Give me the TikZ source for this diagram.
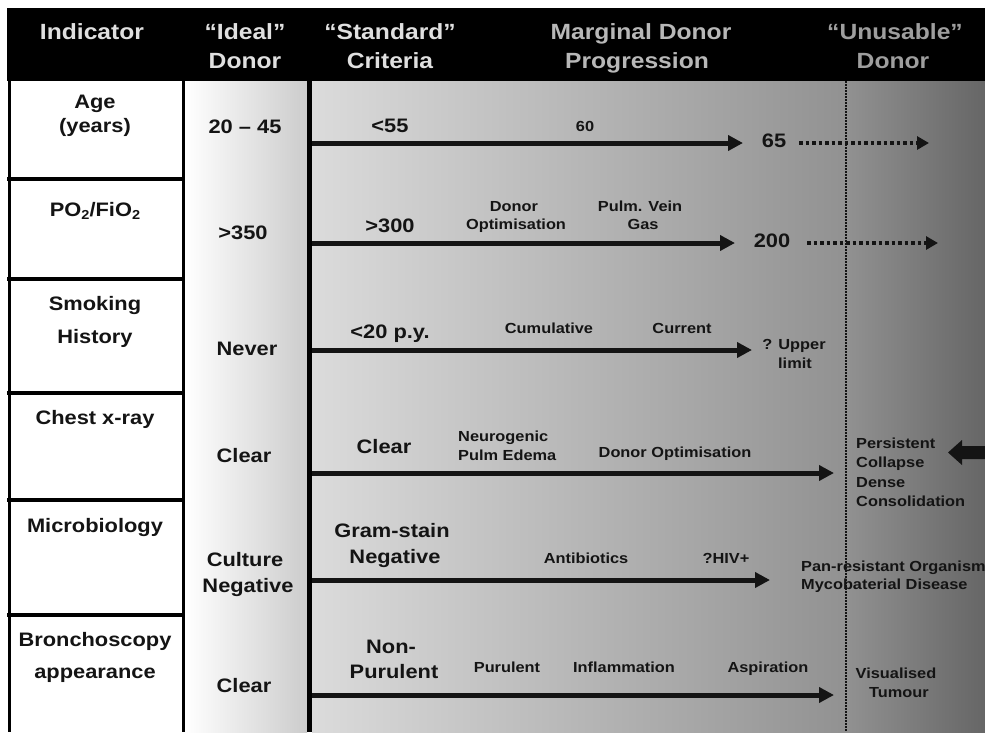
\documentclass[tikz,border=0pt]{standalone}
\usepackage{fontspec}
\setmainfont{Liberation Sans}[FakeStretch=1.12]
\usetikzlibrary{arrows.meta}
\definecolor{hA}{gray}{0.88}
\definecolor{hB}{gray}{0.72}
\definecolor{hC}{gray}{0.62}
\definecolor{idealR}{gray}{0.80}
\definecolor{mainL}{gray}{0.86}
\definecolor{mainM}{gray}{0.57}
\definecolor{mainR}{gray}{0.40}
\definecolor{ink}{gray}{0.08}
\newcommand{\subtwo}{\raisebox{-0.35ex}{\fontsize{13}{15}\selectfont 2}}
\tikzset{
  txt/.style={inner sep=0pt, anchor=base, text=ink, font=\bfseries},
  hdr/.style={txt, text=hA, font=\fontsize{22}{26}\selectfont\bfseries},
  big/.style={txt, font=\fontsize{19.5}{23}\selectfont\bfseries},
  sml/.style={txt, font=\fontsize{14.6}{17}\selectfont\bfseries},
  mainarrow/.style={draw=ink, line width=5pt, -{Triangle[length=15pt,width=15pt]}},
  dotarrow/.style={draw=ink, line width=3.5pt, dash pattern=on 3.5pt off 3pt, -{Triangle[length=12pt,width=13pt]}},
  gridline/.style={draw=black, line width=4pt},
}
\begin{document}
\begin{tikzpicture}[x=1pt,y=-1pt]
\useasboundingbox (0,0) rectangle (985,732);
% backgrounds
\fill[white] (0,0) rectangle (985,732);
\fill[black] (7,8) rectangle (985,81);
\fill[white] (7,81) rectangle (183,732);
\shade[left color=white, right color=idealR] (185,81) rectangle (307,732);
\shade[left color=mainL, right color=mainM] (312,81) rectangle (846,732);
\shade[left color=mainM, right color=mainR] (846,81) rectangle (985,732);
% grid lines
\draw[black, line width=3pt] (9,81) -- (9,732);
\draw[black, line width=3.5pt] (183.5,81) -- (183.5,732);
\foreach \yy in {179,279,393,500,615} \draw[gridline] (7,\yy) -- (185,\yy);
\draw[black, line width=5pt] (309.5,81) -- (309.5,732);
% unusable boundary
\draw[ink, line width=2pt, dash pattern=on 1.5pt off 1.5pt] (846,81) -- (846,732);

% header
\node[hdr] (hInd) at (92,39) {Indicator};
\node[hdr] (hIdealA) at (245,39) {“Ideal”};
\node[hdr] (hIdealB) at (245,68) {Donor};
\node[hdr] (hStdA) at (390,39) {“Standard”};
\node[hdr] (hStdB) at (390,68) {Criteria};
\node[hdr, text=hB] (hMargA) at (641,39) {Marginal Donor};
\node[hdr, text=hB] (hMargB) at (637,68) {Progression};
\node[hdr, text=hC] (hUnA) at (895,39) {“Unusable”};
\node[hdr, text=hC] (hUnB) at (893,68) {Donor};

% indicator column
\node[big] (iAgeA) at (95,108) {Age};
\node[big] (iAgeB) at (95,132) {(years)};
\node[big] (iPO) at (95,216) {PO\subtwo/FiO\subtwo};
\node[big] (iSmA) at (95,310) {Smoking};
\node[big] (iSmB) at (95,343) {History};
\node[big] (iCx) at (95,424) {Chest x-ray};
\node[big] (iMic) at (95,532) {Microbiology};
\node[big] (iBrA) at (95,646) {Bronchoscopy};
\node[big] (iBrB) at (95,678) {appearance};

% ideal column
\node[big] (dAge) at (245,133) {20 – 45};
\node[big] (dPO) at (243,239) {>350};
\node[big] (dSm) at (247,355) {Never};
\node[big] (dCx) at (244,462) {Clear};
\node[big] (dMicA) at (245,566) {Culture};
\node[big] (dMicB) at (248,592) {Negative};
\node[big] (dBr) at (244,692) {Clear};

% standard criteria
\node[big] (sAge) at (390,132) {<55};
\node[big] (sPO) at (390,232) {>300};
\node[big] (sSm) at (390,338) {<20 p.y.};
\node[big] (sCx) at (384,453) {Clear};
\node[big] (sMicA) at (392,537) {Gram-stain};
\node[big] (sMicB) at (395,563) {Negative};
\node[big] (sBrA) at (391,653) {Non-};
\node[big] (sBrB) at (394,678) {Purulent};

% progression labels
\node[sml] (pAge) at (585,131) {60};
\node[big] (eAge) at (774,147) {65};
\node[sml] (pPOa1) at (514,211) {Donor};
\node[sml] (pPOa2) at (516,229) {Optimisation};
\node[sml] (pPOb1) at (640,211) {Pulm. Vein};
\node[sml] (pPOb2) at (643,229) {Gas};
\node[big] (ePO) at (772,247) {200};
\node[sml] (pSmA) at (549,333) {Cumulative};
\node[sml] (pSmB) at (682,333) {Current};
\node[sml] (eSmA) at (794,349) {? Upper};
\node[sml] (eSmB) at (795,368) {limit};
\node[sml, anchor=base west] (pCxA1) at (458,441) {Neurogenic};
\node[sml, anchor=base west] (pCxA2) at (458,460) {Pulm Edema};
\node[sml] (pCxB) at (675,457) {Donor Optimisation};
\node[sml, anchor=base west] (eCx1) at (856,448) {Persistent};
\node[sml, anchor=base west] (eCx2) at (856,467) {Collapse};
\node[sml, anchor=base west] (eCx3) at (856,487) {Dense};
\node[sml, anchor=base west] (eCx4) at (856,506) {Consolidation};
\node[sml] (pMicA) at (586,563) {Antibiotics};
\node[sml] (pMicB) at (726,563) {?HIV+};
\node[sml, anchor=base west] (eMic1) at (801,571) {Pan-resistant Organism};
\node[sml, anchor=base west] (eMic2) at (801,589) {Mycobaterial Disease};
\node[sml] (pBrA) at (507,672) {Purulent};
\node[sml] (pBrB) at (624,672) {Inflammation};
\node[sml] (pBrC) at (768,672) {Aspiration};
\node[sml] (eBr1) at (896,678) {Visualised};
\node[sml] (eBr2) at (899,697) {Tumour};

% arrows
\coordinate (s1) at (312,143); \coordinate (t1) at (743,143);
\coordinate (s2) at (312,243); \coordinate (t2) at (735,243);
\coordinate (s3) at (312,350); \coordinate (t3) at (752,350);
\coordinate (s4) at (312,473); \coordinate (t4) at (834,473);
\coordinate (s5) at (312,580); \coordinate (t5) at (770,580);
\coordinate (s6) at (312,695); \coordinate (t6) at (834,695);
\draw[mainarrow] (s1) -- (t1);
\draw[mainarrow] (s2) -- (t2);
\draw[mainarrow] (s3) -- (t3);
\draw[mainarrow] (s4) -- (t4);
\draw[mainarrow] (s5) -- (t5);
\draw[mainarrow] (s6) -- (t6);
\coordinate (u1) at (799,143); \coordinate (v1) at (929,143);
\coordinate (u2) at (807,243); \coordinate (v2) at (938,243);
\draw[dotarrow] (u1) -- (v1);
\draw[dotarrow] (u2) -- (v2);

% block arrow pointing left
\fill[ink] (948,452.5) -- (962,440) -- (962,446) -- (985,446) -- (985,459) -- (962,459) -- (962,465) -- cycle;
\end{tikzpicture}
\end{document}
